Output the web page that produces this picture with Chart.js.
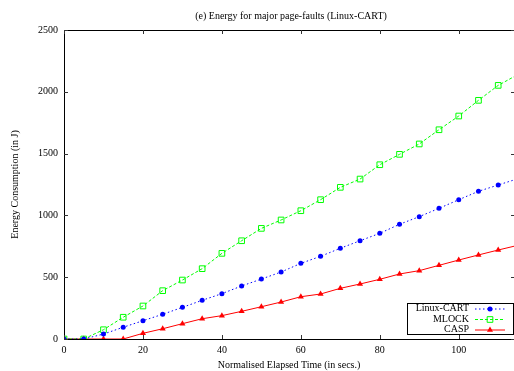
<!DOCTYPE html>
<html>
<head>
<meta charset="utf-8">
<script src="https://cdn.jsdelivr.net/npm/chart.js@4/dist/chart.umd.min.js"></script>
<style>
html,body{margin:0;padding:0;background:#fff;overflow:hidden}
#wrap{width:514px;height:371px;position:relative}
</style>
</head>
<body>
<div id="wrap"><canvas id="c" width="514" height="371"></canvas></div>
<script>
// ---- data ----
const titleText = '(e) Energy for major page-faults (Linux-CART)';
const xTitle = 'Normalised Elapsed Time (in secs.)';
const yTitle = 'Energy Consumption (in J)';
const times = [0,5,10,15,20,25,30,35,40,45,50,55,60,65,70,75,80,85,90,95,100,105,110,115];
const linuxCart = [0,0,40,95,148,200,256,313,367,429,485,542,612,669,734,795,855,928,990,1057,1127,1195,1246,1297];
const mlock = [0,0,75,176,267,391,477,569,693,795,895,963,1038,1127,1227,1294,1410,1494,1578,1693,1804,1931,2052,2140];
const casp = [0,0,0,0,46,83,124,164,189,224,261,299,342,364,410,445,483,526,553,596,639,680,720,758];
const xTicks = [0,20,40,60,80,100];
const yTicks = [0,500,1000,1500,2000,2500];
const seriesLabels = ['Linux-CART','MLOCK','CASP'];

const FONT = '"Liberation Serif", "DejaVu Serif", serif';

function pts(vals){ return times.map((t,i)=>({x:t,y:vals[i]})); }

const gnuplotFrame = {
  id:'gnuplotFrame',
  afterDatasetsDraw(chart){
    const {ctx, chartArea:a, scales} = chart;
    ctx.save();
    ctx.strokeStyle = '#000';
    ctx.lineWidth = 1;
    // top border
    ctx.beginPath();
    ctx.moveTo(a.left, Math.round(a.top)+0.5);
    ctx.lineTo(a.right, Math.round(a.top)+0.5);
    ctx.stroke();
    // inward ticks
    ctx.strokeStyle = '#333';
    const L = 4;
    ctx.beginPath();
    xTicks.forEach(v=>{
      const px = Math.round(scales.x.getPixelForValue(v))+0.5;
      ctx.moveTo(px, a.bottom); ctx.lineTo(px, a.bottom-L);
      ctx.moveTo(px, a.top); ctx.lineTo(px, a.top+L);
    });
    yTicks.forEach(v=>{
      const py = Math.round(scales.y.getPixelForValue(v))+0.5;
      ctx.moveTo(a.left, py); ctx.lineTo(a.left+L, py);
      ctx.moveTo(a.right+1, py); ctx.lineTo(a.right+1-L, py);
    });
    ctx.stroke();
    ctx.restore();
  },
  afterDraw(chart){
    const {ctx, chartArea:a} = chart;
    ctx.save();
    // title
    ctx.fillStyle = '#000';
    ctx.font = '10px ' + FONT;
    ctx.textAlign = 'center';
    ctx.textBaseline = 'middle';
    ctx.fillText(titleText, 291, 16);
    // legend box (gnuplot style)
    const bx = 407.5, by = 303.5, bw = 106, bh = 31;
    ctx.fillStyle = '#fff';
    ctx.fillRect(bx, by, bw, bh);
    ctx.strokeStyle = '#000';
    ctx.lineWidth = 1;
    ctx.strokeRect(bx, by, bw, bh);
    const rowsY = [308.5, 319, 329.5];
    chart.data.datasets.forEach((ds, i)=>{
      const y = rowsY[i];
      ctx.fillStyle = '#000';
      ctx.textAlign = 'right';
      ctx.textBaseline = 'middle';
      ctx.font = '10px ' + FONT;
      ctx.fillText(ds.label, 469, y);
      ctx.save();
      ctx.strokeStyle = ds.borderColor;
      ctx.lineWidth = ds.borderWidth;
      ctx.setLineDash(ds.borderDash || []);
      ctx.beginPath();
      ctx.moveTo(475, y+0.5); ctx.lineTo(505, y+0.5);
      ctx.stroke();
      ctx.setLineDash([]);
      ctx.fillStyle = ds.pointBackgroundColor;
      ctx.strokeStyle = ds.pointBorderColor;
      ctx.lineWidth = ds.pointBorderWidth;
      Chart.helpers.drawPoint(ctx, {pointStyle: ds.pointStyle, radius: ds.pointRadius, rotation: 0, borderWidth: ds.pointBorderWidth}, 490, y+0.5);
      ctx.restore();
    });
    ctx.restore();
  }
};

new Chart(document.getElementById('c'), {
  type: 'line',
  data: {
    datasets: [
      {
        label: seriesLabels[0], data: pts(linuxCart),
        borderColor: '#0000ff', borderWidth: 1, borderDash: [1.5, 2.5],
        pointStyle: 'circle', pointRadius: 2.5, pointBackgroundColor: '#0000ff',
        pointBorderColor: '#0000ff', pointBorderWidth: 0, tension: 0
      },
      {
        label: seriesLabels[1], data: pts(mlock),
        borderColor: '#00ff00', borderWidth: 1, borderDash: [3, 2],
        pointStyle: 'rect', pointRadius: 4, pointBackgroundColor: 'rgba(0,0,0,0)',
        pointBorderColor: '#00ff00', pointBorderWidth: 1, tension: 0
      },
      {
        label: seriesLabels[2], data: pts(casp),
        borderColor: '#ff0000', borderWidth: 1, borderDash: [],
        pointStyle: 'triangle', pointRadius: 3.5, pointBackgroundColor: '#ff0000',
        pointBorderColor: '#ff0000', pointBorderWidth: 0, tension: 0
      }
    ]
  },
  options: {
    responsive: false,
    animation: false,
    events: [],
    layout: { autoPadding: false, padding: { top: 30, left: 0, right: 0, bottom: 0 } },
    plugins: { legend: { display: false }, tooltip: { enabled: false }, title: { display: false } },
    scales: {
      x: {
        type: 'linear', min: 0, max: 114,
        grid: { display: false, drawTicks: false },
        border: { display: true, color: '#000', width: 1 },
        ticks: { color: '#000', font: { family: FONT, size: 10 }, padding: 5, maxRotation: 0, autoSkip: false,
                 callback: (v) => String(v) },
        title: { display: true, text: xTitle, color: '#000', font: { family: FONT, size: 10 }, padding: { top: 0, bottom: 0 } },
        afterBuildTicks: (s) => { s.ticks = xTicks.map(v => ({ value: v })); },
        afterFit: (s) => { s.height = 32; s.paddingLeft = 0; s.paddingRight = 0; }
      },
      y: {
        type: 'linear', min: 0, max: 2500,
        grid: { display: false, drawTicks: false },
        border: { display: true, color: '#000', width: 1 },
        ticks: { color: '#000', font: { family: FONT, size: 10 }, padding: 6,
                 callback: (v) => String(v) },
        title: { display: true, text: yTitle, color: '#000', font: { family: FONT, size: 10 }, padding: { top: 9, bottom: 0 } },
        afterBuildTicks: (s) => { s.ticks = yTicks.map(v => ({ value: v })); },
        afterFit: (s) => { s.width = 64; s.paddingTop = 0; s.paddingBottom = 0; }
      }
    }
  },
  plugins: [gnuplotFrame]
});
</script>
</body>
</html>
